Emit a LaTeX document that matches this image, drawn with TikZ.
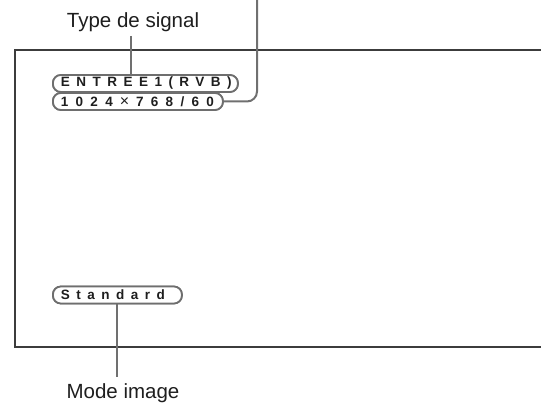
\documentclass[tikz,border=0pt]{standalone}
\usepackage{fontspec}
\setmainfont{Liberation Sans}
\definecolor{screenline}{HTML}{3C3C3C}
\definecolor{pillline}{HTML}{6E6E6E}
\definecolor{conn}{HTML}{707070}
\definecolor{txt}{HTML}{1E1E1E}
\newcommand{\bigtimes}{\kern7pt{\fontsize{16}{14}\selectfont\mdseries ×}\kern7pt}
\tikzset{
  pill/.style={draw=pillline, line width=1.8pt, rounded corners=8pt, fill=white,
    minimum height=17pt, inner ysep=0pt, inner xsep=8pt, anchor=west, align=left,
    text=txt, font=\fontsize{13.5}{14}\selectfont\bfseries\addfontfeature{LetterSpace=48}},
  pilltwo/.style={pill, font=\fontsize{13.5}{14}\selectfont\bfseries\addfontfeature{LetterSpace=54}},
  label/.style={text=txt, font=\fontsize{20.5}{24}\selectfont, inner sep=2pt},
  connector/.style={draw=conn, line width=2pt},
  screen/.style={draw=screenline, line width=1.6pt}
}
\begin{document}
\begin{tikzpicture}[x=1pt,y=-1pt]
\useasboundingbox (0,0) rectangle (541,403);
% screen frame
\coordinate (s1) at (541,50);
\coordinate (s2) at (15,50);
\coordinate (s3) at (15,347);
\coordinate (s4) at (541,347);
\draw[screen] (s1) -- (s2) -- (s3) -- (s4);
% labels
\node[label, anchor=base] (tl) at (133,28) {Type de signal};
\node[label, anchor=base] (mi) at (123,398) {Mode image};
% pills (first pass, for anchors)
\node[pill, text width=169pt] (p1) at (52,83.5) {ENTREE1(RVB)};
\node[pilltwo, text width=154pt] (p2) at (52,101.5) {1024\bigtimes768/60};
\node[pill, text width=113pt] (p3) at (52,295) {Standard};
% connectors
\coordinate (rt) at (257,0);
\coordinate (tlb) at (131,36);
\draw[connector] (tlb) -- (tlb |- p1.north);
\draw[connector, rounded corners=10pt] (p2.east) -| (rt);
\draw[connector] (p3.south) -- (p3.south |- 0,377);
% redraw pills on top of connectors
\node[pill, text width=169pt] at (52,83.5) {ENTREE1(RVB)};
\node[pilltwo, text width=154pt] at (52,101.5) {1024\bigtimes768/60};
\node[pill, text width=113pt] at (52,295) {Standard};
\end{tikzpicture}
\end{document}
